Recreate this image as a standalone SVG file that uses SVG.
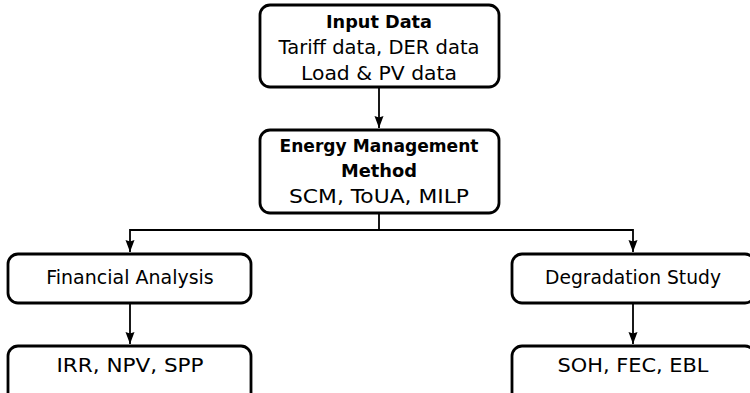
<svg xmlns="http://www.w3.org/2000/svg" width="750" height="393" viewBox="0 0 750 393">
  <style>
    .box { fill: #ffffff; stroke: #000000; stroke-width: 2.8; }
    .lbl { font-family: "DejaVu Sans", "Liberation Sans", sans-serif; font-size: 19px; fill: #000000; text-anchor: middle; }
    .b { font-weight: bold; font-size: 18.5px; }
    .wire { fill: none; stroke: #000000; stroke-width: 1.8; }
  </style>
  <defs>
    <marker id="arrow" viewBox="0 0 12 10" refX="12" refY="5" markerWidth="12" markerHeight="10" markerUnits="userSpaceOnUse" orient="auto">
      <path d="M0,0.5 L12,5 L0,9.5 L1.5,5 Z" fill="#000000"/>
    </marker>
  </defs>

  <!-- connectors -->
  <g id="connectors">
    <line class="wire" x1="379" y1="87" x2="379" y2="128" marker-end="url(#arrow)"/>
    <path class="wire" d="M379,213 V230 H130 V252" marker-end="url(#arrow)"/>
    <path class="wire" d="M379,230 H633 V252" marker-end="url(#arrow)"/>
    <line class="wire" x1="130" y1="303" x2="130" y2="344" marker-end="url(#arrow)"/>
    <line class="wire" x1="633" y1="303" x2="633" y2="344" marker-end="url(#arrow)"/>
  </g>

  <g id="input-data">
    <rect class="box" x="260" y="5" width="239" height="82" rx="10"/>
    <text class="lbl b" x="379" y="28" textLength="106" lengthAdjust="spacingAndGlyphs">Input Data</text>
    <text class="lbl" x="379" y="54" textLength="201" lengthAdjust="spacingAndGlyphs">Tariff data, DER data</text>
    <text class="lbl" x="379" y="80" textLength="156" lengthAdjust="spacingAndGlyphs">Load &amp; PV data</text>
  </g>

  <g id="energy-management">
    <rect class="box" x="260" y="130" width="239" height="83" rx="10"/>
    <text class="lbl b" x="379" y="152" textLength="199" lengthAdjust="spacingAndGlyphs">Energy Management</text>
    <text class="lbl b" x="379" y="177" textLength="76" lengthAdjust="spacingAndGlyphs">Method</text>
    <text class="lbl" x="379" y="203" textLength="180" lengthAdjust="spacingAndGlyphs">SCM, ToUA, MILP</text>
  </g>

  <g id="financial-analysis">
    <rect class="box" x="8" y="254" width="243" height="49" rx="10"/>
    <text class="lbl" x="130" y="284">Financial Analysis</text>
  </g>

  <g id="degradation-study">
    <rect class="box" x="512" y="254" width="243" height="49" rx="10"/>
    <text class="lbl" x="633" y="284" textLength="176" lengthAdjust="spacingAndGlyphs">Degradation Study</text>
  </g>

  <g id="financial-metrics">
    <rect class="box" x="8" y="346" width="243" height="60" rx="10"/>
    <text class="lbl" x="130" y="372" textLength="147" lengthAdjust="spacingAndGlyphs">IRR, NPV, SPP</text>
  </g>

  <g id="degradation-metrics">
    <rect class="box" x="512" y="346" width="243" height="60" rx="10"/>
    <text class="lbl" x="633" y="372" textLength="151" lengthAdjust="spacingAndGlyphs">SOH, FEC, EBL</text>
  </g>
</svg>
